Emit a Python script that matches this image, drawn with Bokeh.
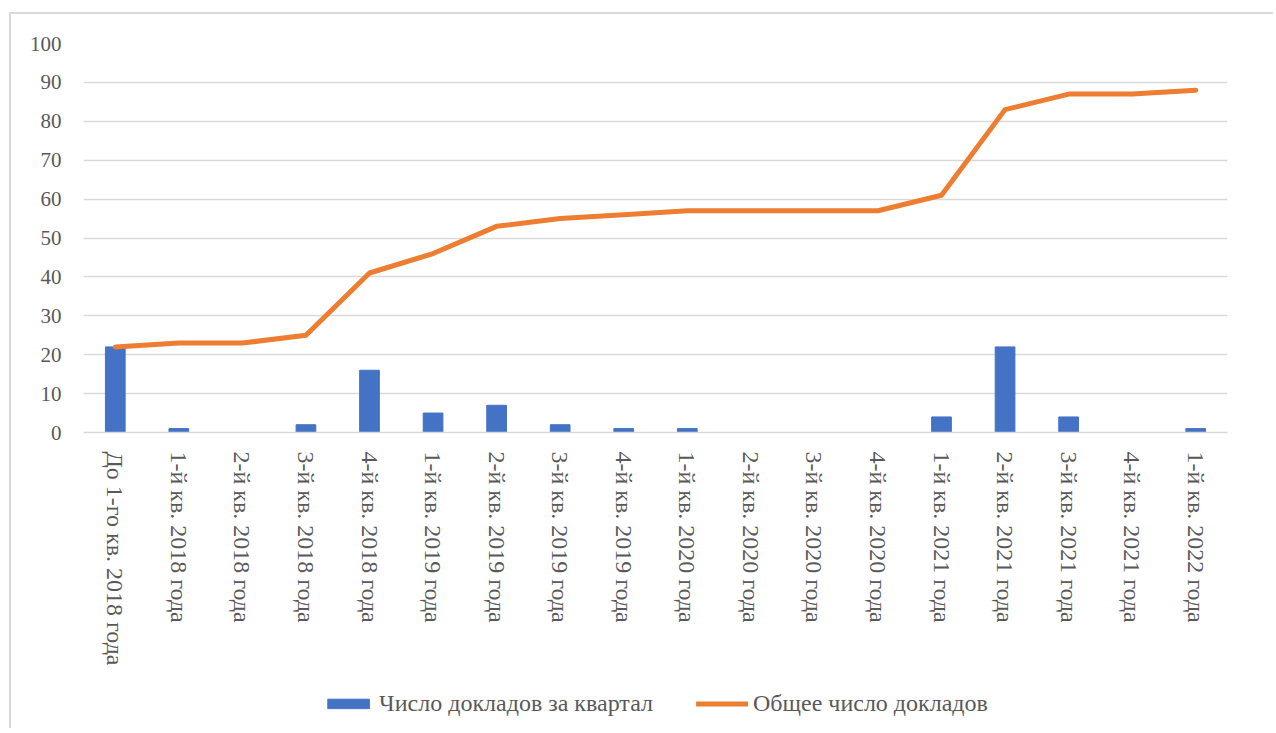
import math
from bokeh.plotting import figure
from bokeh.layouts import column
from bokeh.models import (ColumnDataSource, Legend, LegendItem, FactorRange, Range1d,
                          SingleIntervalTicker)
from bokeh.embed import file_html
from bokeh.resources import INLINE

categories = [
    "До 1-го кв. 2018 года",
    "1-й кв. 2018 года",
    "2-й кв. 2018 года",
    "3-й кв. 2018 года",
    "4-й кв. 2018 года",
    "1-й кв. 2019 года",
    "2-й кв. 2019 года",
    "3-й кв. 2019 года",
    "4-й кв. 2019 года",
    "1-й кв. 2020 года",
    "2-й кв. 2020 года",
    "3-й кв. 2020 года",
    "4-й кв. 2020 года",
    "1-й кв. 2021 года",
    "2-й кв. 2021 года",
    "3-й кв. 2021 года",
    "4-й кв. 2021 года",
    "1-й кв. 2022 года",
]
quarterly = [22, 1, 0, 2, 16, 5, 7, 2, 1, 1, 0, 0, 0, 4, 22, 4, 0, 1]
total = [22, 23, 23, 25, 41, 46, 53, 55, 56, 57, 57, 57, 57, 61, 83, 87, 87, 88]

series_names = ["Число докладов за квартал", "Общее число докладов"]

FONT = "Liberation Serif"
TEXT_COLOR = "#595959"
GRID = "#d9d9d9"
BAR_COLOR = "#4472C4"
LINE_COLOR = "#ED7D31"

source = ColumnDataSource(dict(cat=categories, q=quarterly, t=total))

p = figure(
    x_range=FactorRange(factors=categories, range_padding=0),
    y_range=Range1d(0, 100),
    width=1262, height=664,
    output_backend="svg", toolbar_location=None,
    min_border_left=72, min_border_right=15, min_border_top=29, min_border_bottom=246,
)
p.outline_line_color = None
p.background_fill_color = "white"
p.border_fill_color = "white"

p.vbar(x="cat", top="q", width=0.31, source=source, color=BAR_COLOR)
p.line(x="cat", y="t", source=source, line_color=LINE_COLOR, line_width=5,
       line_cap="round", line_join="round")

p.yaxis.ticker = SingleIntervalTicker(interval=10)
p.yaxis.axis_line_color = None
p.yaxis.major_tick_line_color = None
p.yaxis.minor_tick_line_color = None
p.yaxis.major_label_text_font = FONT
p.yaxis.major_label_text_font_size = "21px"
p.yaxis.major_label_text_color = TEXT_COLOR
p.yaxis.major_label_standoff = 16

p.xaxis.axis_line_color = GRID
p.xaxis.axis_line_width = 1.5
p.xaxis.major_tick_line_color = None
p.xaxis.minor_tick_line_color = None
p.xaxis.major_label_orientation = -math.pi / 2
p.xaxis.major_label_text_font = FONT
p.xaxis.major_label_text_font_size = "24px"
p.xaxis.major_label_text_color = TEXT_COLOR
p.xaxis.major_label_standoff = 13

p.xgrid.grid_line_color = None
p.ygrid.grid_line_color = GRID
p.ygrid.grid_line_width = 1.5

# Legend strip below the chart (its sample glyphs sit fully outside the visible range)
lf = figure(width=1262, height=50, output_backend="svg", toolbar_location=None,
            x_range=Range1d(0, 1), y_range=Range1d(0, 1),
            min_border_left=0, min_border_right=46, min_border_top=0, min_border_bottom=0)
lf.axis.visible = False
lf.grid.visible = False
lf.outline_line_color = None
lf.background_fill_color = "white"
lf.border_fill_color = "white"
offscreen = ColumnDataSource(dict(x=[-10, -11], y=[-10, -10], top=[-10, -10], bottom=[-12, -12]))
lb = lf.vbar(x="x", top="top", bottom="bottom", width=0.1, source=offscreen, color=BAR_COLOR)
ll = lf.line(x="x", y="y", source=offscreen, line_color=LINE_COLOR, line_width=5, line_cap="round")

legend = Legend(
    items=[LegendItem(label=series_names[0], renderers=[lb]),
           LegendItem(label=series_names[1], renderers=[ll])],
    orientation="horizontal", location="center",
    label_text_font=FONT, label_text_font_size="24px", label_text_color=TEXT_COLOR,
    glyph_width=52, glyph_height=12, label_standoff=5, spacing=43,
    border_line_color=None, background_fill_alpha=0,
    padding=4, margin=0,
)
lf.add_layout(legend, "center")

layout = column(p, lf, spacing=0,
                styles={"border-left": "2px solid #d9d9d9", "border-top": "2px solid #d9d9d9",
                        "margin-left": "9px", "margin-top": "12px"})

open("out.html", "w").write(file_html(layout, INLINE))
